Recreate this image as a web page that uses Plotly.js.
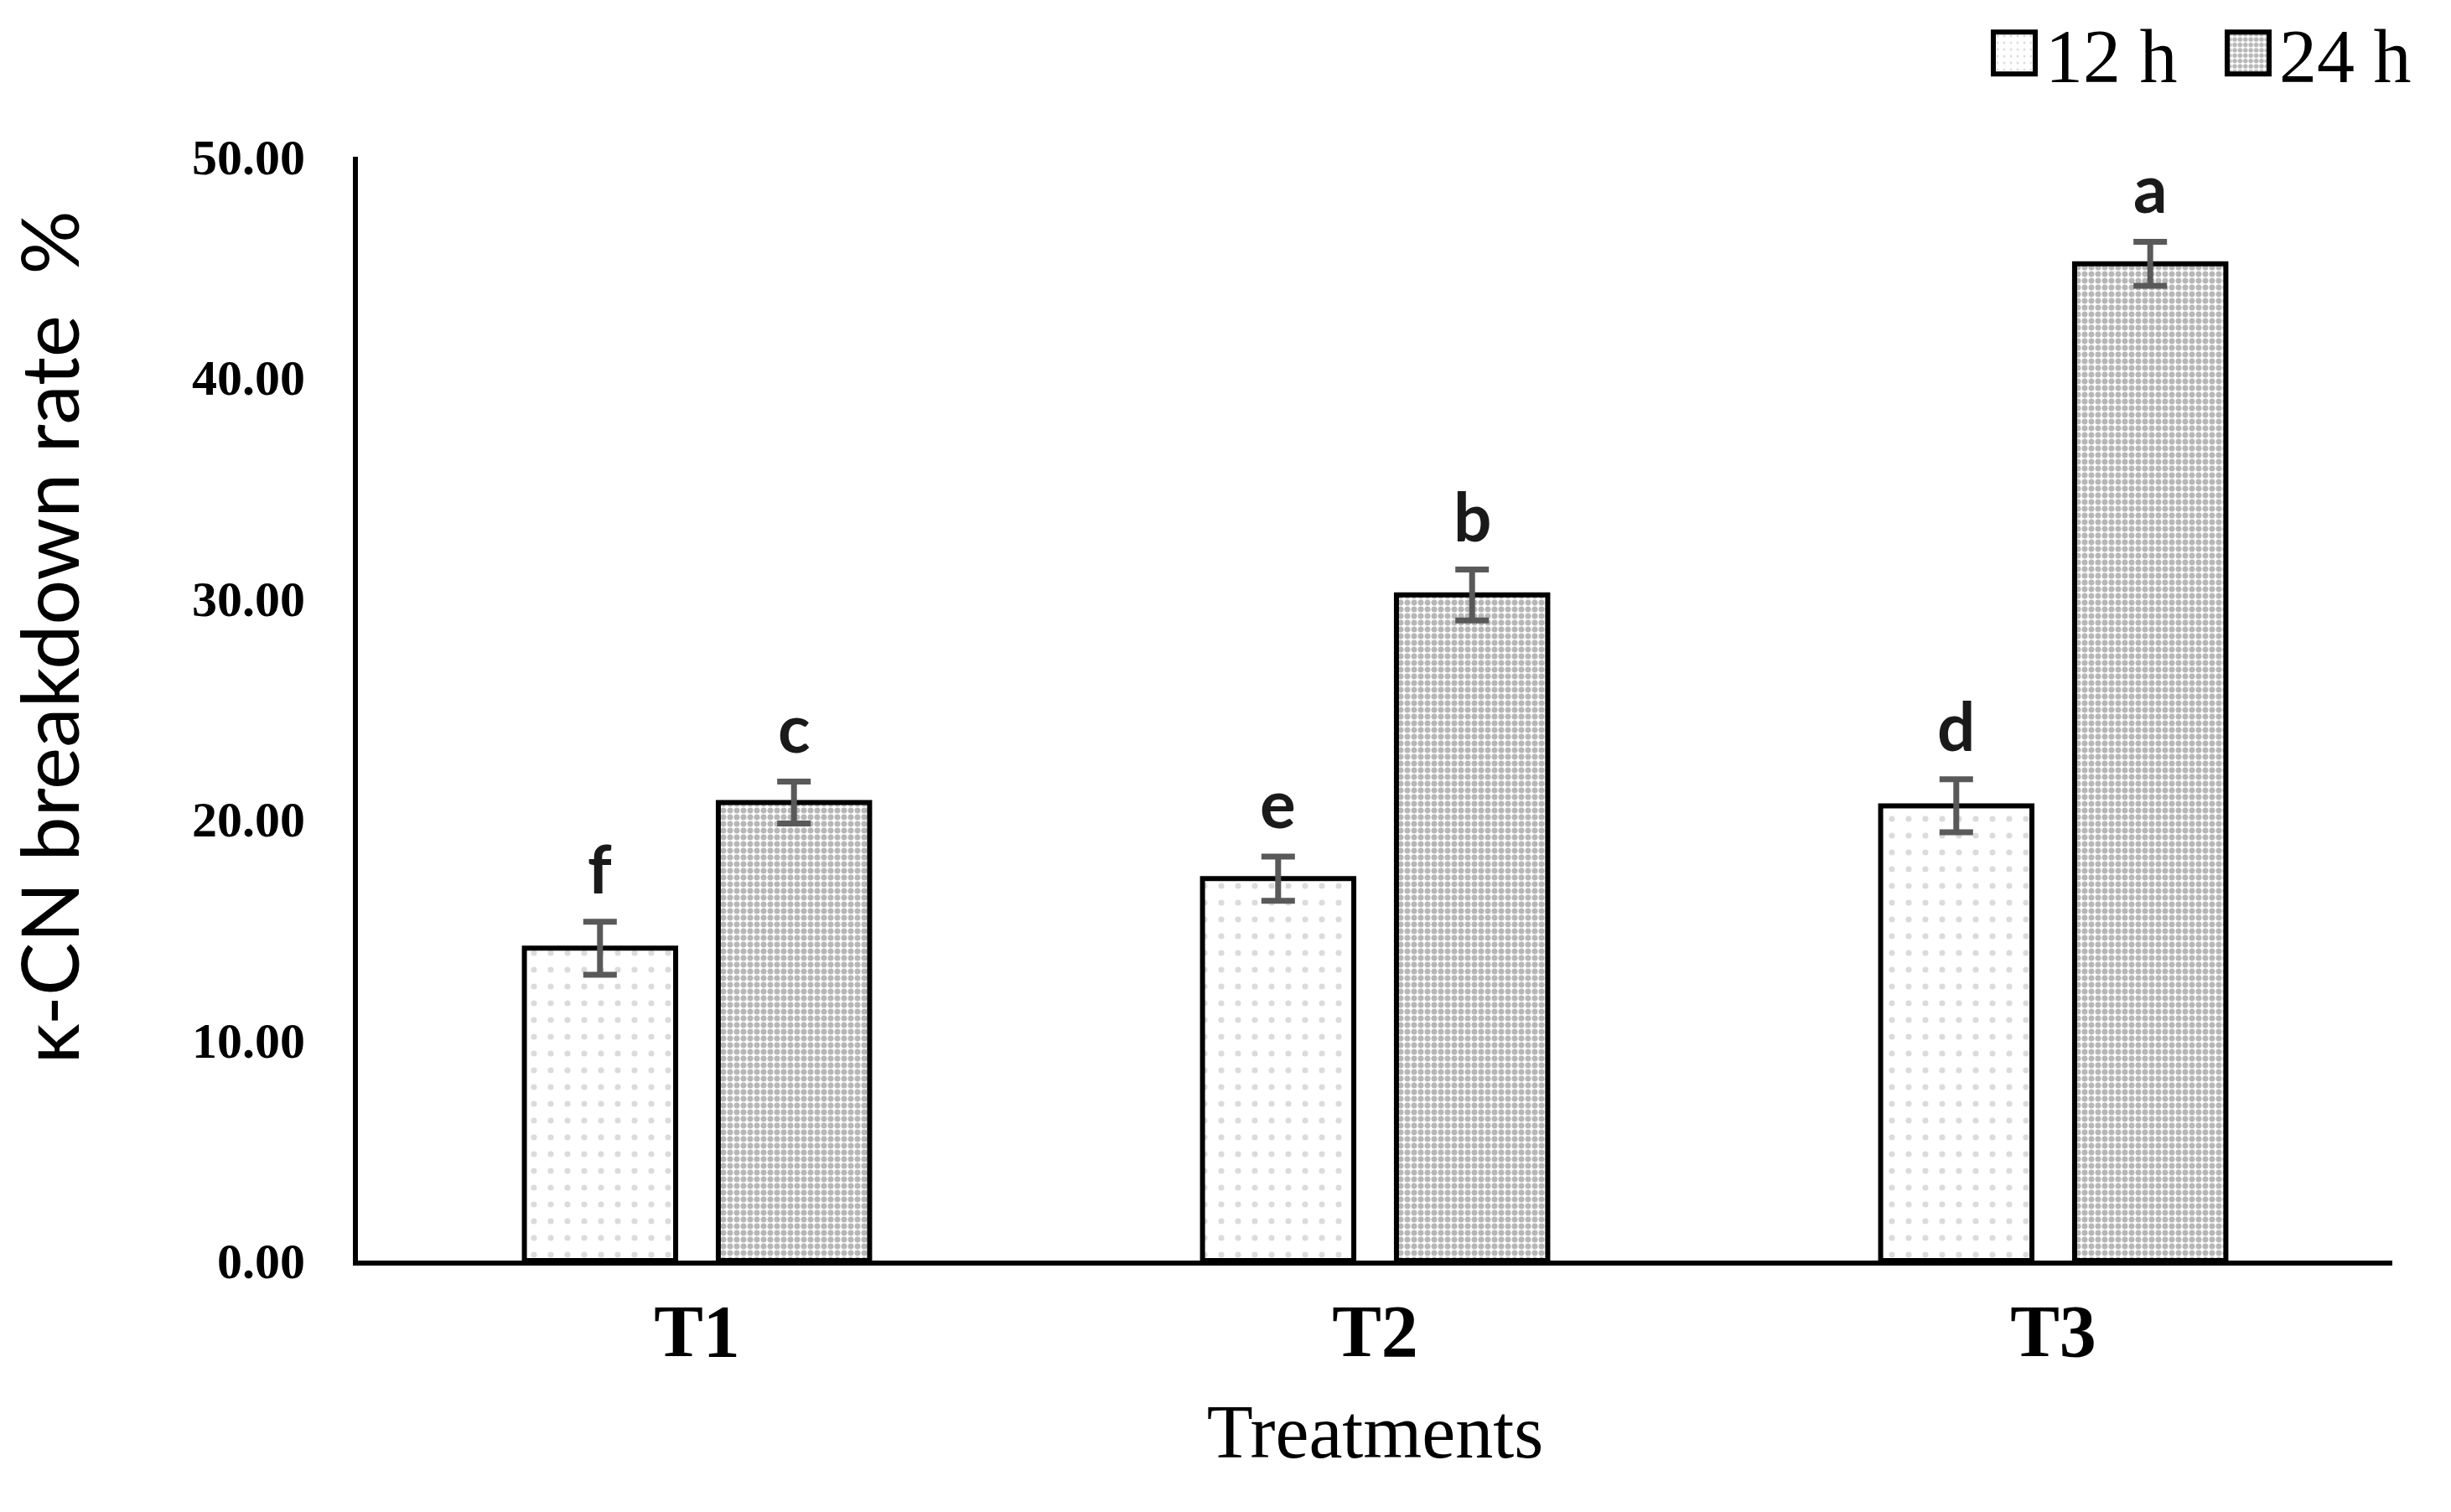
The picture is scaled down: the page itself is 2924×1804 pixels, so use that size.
<!DOCTYPE html>
<html>
<head>
<meta charset="utf-8">
<script src="https://cdn.plot.ly/plotly-3.0.1.min.js"></script>
<style>html,body{margin:0;padding:0;background:#fff;}#chart{width:2924px;height:1804px;}</style>
</head>
<body>
<div id="chart"></div>
<script>
var categories = ["T1", "T2", "T3"];
var seriesNames = ["12 h", "24 h"];
var values12h = [14.15, 17.3, 20.6];
var errors12h = [1.2, 1.0, 1.2];
var values24h = [20.75, 30.15, 45.15];
var errors24h = [0.95, 1.15, 1.0];
var letters12h = ["f", "e", "d"];
var letters24h = ["c", "b", "a"];
var yTicks = [0, 10, 20, 30, 40, 50];

var serif = '"Liberation Serif", "Times New Roman", serif';
var sans = 'Lato, "Open Sans", sans-serif';
var errStyle = {thickness: 7, width: 20, color: '#595959'};

var trace12 = {
  type: 'bar', name: seriesNames[0], x: categories, y: values12h,
  error_y: Object.assign({type: 'data', array: errors12h, visible: true}, errStyle),
  marker: {color: '#ffffff', line: {color: '#000000', width: 6},
           pattern: {shape: '.', fgcolor: '#b8b8b8', bgcolor: '#ffffff', size: 20, solidity: 0.1, fillmode: 'overlay'}}
};
var trace24 = {
  type: 'bar', name: seriesNames[1], x: categories, y: values24h,
  error_y: Object.assign({type: 'data', array: errors24h, visible: true}, errStyle),
  marker: {color: '#ffffff', line: {color: '#000000', width: 6},
           pattern: {shape: '.', fgcolor: '#6f6f6f', bgcolor: '#ffffff', size: 8, solidity: 0.6, fillmode: 'overlay'}}
};

var annotations = [];
function addLetters(vals, errs, labels, xshift) {
  for (var i = 0; i < categories.length; i++) {
    annotations.push({
      x: categories[i], y: vals[i] + errs[i], xref: 'x', yref: 'y',
      text: labels[i], showarrow: false, yanchor: 'bottom', xshift: xshift, yshift: 15,
      font: {family: sans, size: 80, color: '#1a1a1a', weight: 'bold'}
    });
  }
}
addLetters(values12h, errors12h, letters12h, -116);
addLetters(values24h, errors24h, letters24h, 116);

var pad = '';
for (var k = 0; k < 7; k++) pad += '&nbsp;';

var layout = {
  width: 2924, height: 1804,
  paper_bgcolor: '#ffffff', plot_bgcolor: '#ffffff',
  margin: {l: 427, r: 70, t: 187, b: 300, autoexpand: false},
  barmode: 'group', bargap: 0.428, bargroupgap: 0.22,
  showlegend: true,
  legend: {orientation: 'h', xref: 'container', yref: 'container', x: 1.0, xanchor: 'right', y: 0.965, yanchor: 'middle',
           font: {family: serif, size: 90, color: '#000'}, itemwidth: 64, tracegroupgap: 0,
           entrywidth: 200, entrywidthmode: 'pixels'},
  xaxis: {
    type: 'category', range: [-0.5, 2.5], automargin: true,
    showline: true, linecolor: '#000', linewidth: 6, ticks: '', showgrid: false, zeroline: false,
    tickfont: {family: serif, size: 88, color: '#000', weight: 'bold'},
    ticklabelstandoff: 2,
    title: {text: 'Treatments', standoff: 42, font: {family: serif, size: 90, color: '#000'}}
  },
  yaxis: {
    range: [0, 50], tickvals: yTicks, tickformat: '.2f', automargin: false,
    showline: true, linecolor: '#000', linewidth: 6, ticks: '', showgrid: false, zeroline: false,
    tickfont: {family: serif, size: 60, color: '#000', weight: 'bold'},
    ticklabelstandoff: 45,
    title: {text: pad + 'κ-CN breakdown rate  %', standoff: 110, font: {family: sans, size: 95, color: '#000'}}
  },
  annotations: annotations
};

Plotly.newPlot('chart', [trace12, trace24], layout, {displayModeBar: false, staticPlot: true}).then(function(gd) {
  var pts = gd.querySelectorAll('.legend .legendpoints path');
  pts.forEach(function(p) {
    p.setAttribute('d', 'M25,25H-25V-25H25Z');
    p.style.strokeWidth = '6px';
    p.style.stroke = '#000';
  });
});
</script>
</body>
</html>
